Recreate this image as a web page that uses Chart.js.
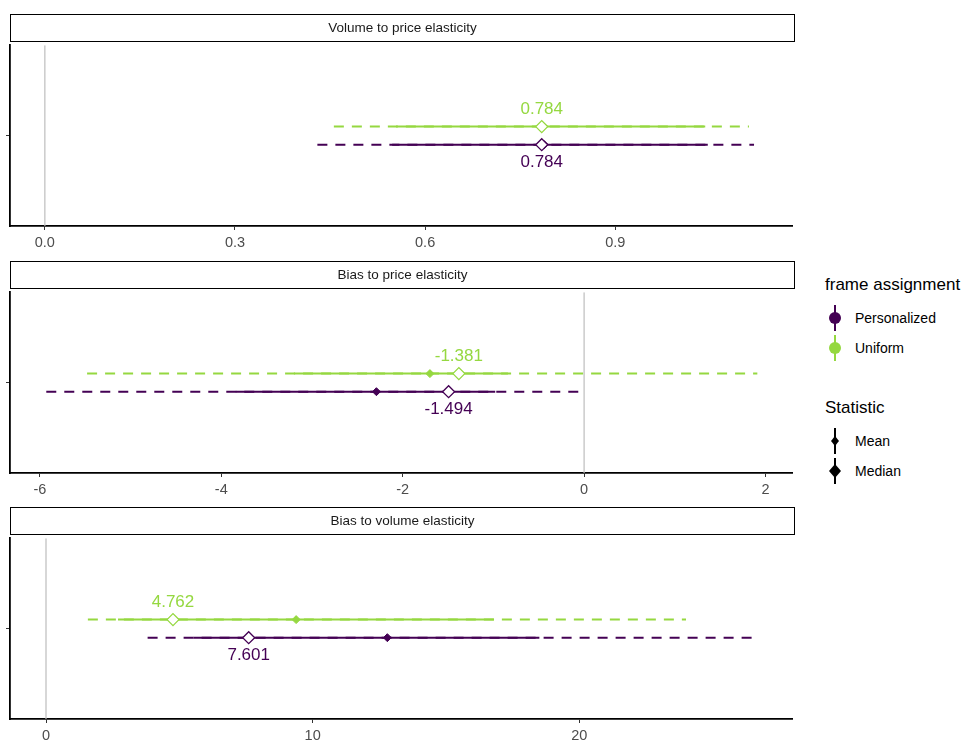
<!DOCTYPE html>
<html>
<head>
<meta charset="utf-8">
<script src="https://cdn.jsdelivr.net/npm/chart.js@4"></script>
<style>
  body { margin:0; background:#fff; font-family:"Liberation Sans", Arial, sans-serif; }
  .strip { position:absolute; left:10px; width:783px; height:26px; border:1.5px solid #000;
           font-size:13.5px; text-align:center; line-height:26px; color:#1a1a1a; box-sizing:content-box; }
  canvas { position:absolute; left:0; }
  .leg { position:absolute; left:825px; color:#000; }
  .legt { font-size:17px; }
  .item { font-size:14px; height:30px; display:flex; align-items:center; }
  .item svg { margin-right:10px; }
</style>
</head>
<body>
<canvas id="c0" style="top:38px"></canvas>
<canvas id="c1" style="top:285px"></canvas>
<canvas id="c2" style="top:531px"></canvas>
<div class="strip" style="top:14px">Volume to price elasticity</div>
<div class="strip" style="top:261px">Bias to price elasticity</div>
<div class="strip" style="top:507px">Bias to volume elasticity</div>

<div class="leg" style="top:275px">
  <div class="legt">frame assignment</div>
  <div class="item" style="margin-top:8px"><svg width="20" height="26"><line x1="10" y1="0" x2="10" y2="26" stroke="#440154" stroke-width="2"/><circle cx="10" cy="13" r="6" fill="#440154"/></svg>Personalized</div>
  <div class="item"><svg width="20" height="26"><line x1="10" y1="0" x2="10" y2="26" stroke="#95D840" stroke-width="2"/><circle cx="10" cy="13" r="6" fill="#95D840"/></svg>Uniform</div>
</div>
<div class="leg" style="top:398px">
  <div class="legt">Statistic</div>
  <div class="item" style="margin-top:8px"><svg width="20" height="26"><line x1="10" y1="0" x2="10" y2="26" stroke="#000" stroke-width="2"/><polygon points="10,8 14,13 10,18 6,13" fill="#000"/></svg>Mean</div>
  <div class="item"><svg width="20" height="26"><line x1="10" y1="0" x2="10" y2="26" stroke="#000" stroke-width="2"/><polygon points="10,6 16,13 10,20 4,13" fill="#000"/></svg>Median</div>
</div>

<script>
const panels = ['Volume to price elasticity', 'Bias to price elasticity', 'Bias to volume elasticity'];
const groups = ['Personalized', 'Uniform'];
const colors = ['#440154', '#95D840'];

// per panel: [Personalized, Uniform]
const outerLo = [[0.43, 0.456], [-5.93, -5.48], [3.81, 1.57]];
const outerHi = [[1.119, 1.111], [0.0, 1.91], [26.7, 24.0]];
const innerLo = [[0.548, 0.554], [-3.84, -3.2], [5.53, 2.7]];
const innerHi = [[1.046, 1.042], [-0.98, -0.84], [18.5, 16.8]];
const means = [[0.788, 0.784], [-2.29, -1.70], [12.8, 9.38]];
const medians = [[0.784, 0.784], [-1.494, -1.381], [7.601, 4.762]];

const xMin = [-0.055, -6.33, -1.35];
const xMax = [1.18, 2.30, 28.0];
const xStep = [0.3, 2, 10];
const xDigits = [1, 0, 0];

const rowY = [0.45, 0.55];

const labelPlugin = {
  id: 'medlabels',
  afterDatasetsDraw(chart) {
    const p = chart.options.plugins.medlabels.panel;
    const ctx = chart.ctx;
    ctx.save();
    ctx.font = '17px "Liberation Sans", Arial, sans-serif';
    ctx.textAlign = 'center';
    for (let g = 0; g < 2; g++) {
      const x = chart.scales.x.getPixelForValue(medians[p][g]);
      const y = chart.scales.y.getPixelForValue(rowY[g]);
      ctx.fillStyle = colors[g];
      ctx.textBaseline = g === 1 ? 'bottom' : 'top';
      ctx.fillText(medians[p][g].toFixed(3), x, g === 1 ? y - 9 : y + 9);
    }
    ctx.restore();
  }
};

panels.forEach((name, p) => {
  const ds = [];
  ds.push({ data: [{x: 0, y: 0}, {x: 0, y: 1}], showLine: true, borderColor: '#bdbdbd', borderWidth: 1.2, pointRadius: 0, order: 5 });
  for (let g = 0; g < 2; g++) {
    const y = rowY[g];
    ds.push({ data: [{x: outerLo[p][g], y}, {x: outerHi[p][g], y}], showLine: true, borderColor: colors[g],
              borderWidth: 2, borderDash: [10, 8], pointRadius: 0, order: 4 });
    ds.push({ data: [{x: innerLo[p][g], y}, {x: innerHi[p][g], y}], showLine: true, borderColor: colors[g],
              borderWidth: 2, pointRadius: 0, order: 3 });
    ds.push({ data: [{x: means[p][g], y}], showLine: false, pointStyle: 'rectRot', pointRadius: 4,
              backgroundColor: colors[g], borderColor: colors[g], borderWidth: 1, order: 2 });
    ds.push({ data: [{x: medians[p][g], y}], showLine: false, pointStyle: 'rectRot', pointRadius: 6,
              backgroundColor: '#fff', borderColor: colors[g], borderWidth: 1.3, order: 1 });
  }
  const cv = document.getElementById('c' + p);
  cv.width = 800; cv.height = 212;
  cv.style.width = '800px'; cv.style.height = '212px';
  new Chart(cv, {
    type: 'scatter',
    data: { datasets: ds },
    options: {
      responsive: false, animation: false,
      layout: { padding: { right: 5, top: 0, bottom: 0, left: 0 } },
      plugins: { legend: { display: false }, tooltip: { enabled: false }, medlabels: { panel: p } },
      scales: {
        x: {
          min: xMin[p], max: xMax[p],
          afterBuildTicks(s) {
            const t = [];
            for (let v = Math.ceil(xMin[p] / xStep[p]) * xStep[p]; v <= xMax[p] + 1e-9; v += xStep[p]) t.push({ value: +v.toFixed(6) });
            s.ticks = t;
          },
          afterFit(s) { s.height = 24; },
          ticks: { color: '#4d4d4d', font: { size: 14.5, family: '"Liberation Sans", Arial' }, padding: 4,
                   callback: v => (+v).toFixed(xDigits[p]) },
          grid: { display: true, drawOnChartArea: false, drawTicks: true, tickLength: 4, color: '#333' },
          border: { color: '#000', width: 1.8 }
        },
        y: {
          min: 0, max: 1,
          afterBuildTicks(s) { s.ticks = [{ value: 0.5 }]; },
          afterFit(s) { s.width = 10; },
          ticks: { callback: () => '', padding: 0 },
          grid: { drawOnChartArea: false, drawTicks: true, tickLength: 4, color: '#333' },
          border: { color: '#000', width: 1.8 }
        }
      }
    },
    plugins: [labelPlugin]
  });
});
</script>
</body>
</html>
